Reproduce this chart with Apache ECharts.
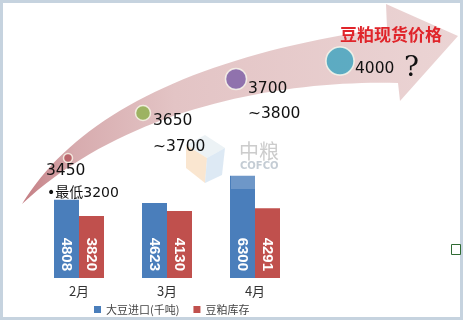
<!DOCTYPE html>
<html>
<head>
<meta charset="utf-8">
<script src="https://cdn.jsdelivr.net/npm/echarts@6/dist/echarts.min.js"></script>
<style>html,body{margin:0;padding:0;background:#fff;}#c{width:464px;height:321px;}</style>
</head>
<body>
<div id="c"></div>
<script>
// ---- data ----
const categories = ['2月', '3月', '4月'];
const soyImport = [4808, 4623, 6300];
const mealStock = [3820, 4130, 4291];
const seriesNames = ['大豆进口(千吨)', '豆粕库存'];
const priceTop = ['3450', '3650', '3700', '4000'];
const priceBottom = ['', '~3700', '~3800', ''];
const lowNote = '•最低3200';
const arrowTitle = '豆粕现货价格';
const watermarkCn = '中粮';
const watermarkEn = 'COFCO';

// ---- layout / style (decoration) ----
const bubbleXY = [[68, 158], [143, 113], [236, 79], [340, 61]];
const bubbleSize = [9, 15, 21, 28];
const bubbleColor = ['#b3545b', '#8cb04b', '#7a5ca6', '#3aa3bf'];
const topLabelXY = [[46, 171], [153, 121], [248, 89], [355, 69]];
const botLabelXY = [[0, 0], [153, 147], [248, 114], [0, 0]];
const priceFont = '15.5px "DejaVu Sans", sans-serif';

// arrow outline built from bezier curves (decoration)
function quad(p0, c, p1, n) {
  const pts = [];
  for (let i = 0; i <= n; i++) {
    const t = i / n, u = 1 - t;
    pts.push([u * u * p0[0] + 2 * u * t * c[0] + t * t * p1[0], u * u * p0[1] + 2 * u * t * c[1] + t * t * p1[1]]);
  }
  return pts;
}
function cubic(p0, c1, c2, p1, n) {
  const pts = [];
  for (let i = 0; i <= n; i++) {
    const t = i / n, u = 1 - t;
    const a = u * u * u, b = 3 * u * u * t, c = 3 * u * t * t, d = t * t * t;
    pts.push([a * p0[0] + b * c1[0] + c * c2[0] + d * p1[0], a * p0[1] + b * c1[1] + c * c2[1] + d * p1[1]]);
  }
  return pts;
}
const arrowPts = [].concat(
  quad([22, 204], [105, 68], [387, 28], 40),
  [[386, 4], [458, 36], [400, 101]],
  cubic([398, 83], [280, 80], [125, 108], [22, 204], 40)
);

const chart = echarts.init(document.getElementById('c'), null, { renderer: 'canvas' });

const graphics = [
  { type: 'rect', z: -10, shape: { x: 1.5, y: 1.5, width: 460, height: 317 },
    style: { fill: '#fff', stroke: '#c6d3df', lineWidth: 3 } },
  { type: 'polygon', z: -5, shape: { points: arrowPts },
    style: { fill: { type: 'linear', x: 0, y: 0, x2: 1, y2: 0, colorStops: [
      { offset: 0, color: '#c47d83' }, { offset: 0.12, color: '#d7abae' }, { offset: 0.35, color: '#e3c4c5' }, { offset: 1, color: '#ebd4d4' }] } } },
  // faint logo watermark
  { type: 'polygon', z: -4, shape: { points: [[186, 145], [205, 135], [225, 148], [207, 158]] }, style: { fill: '#e6eef2', opacity: 0.75 } },
  { type: 'polygon', z: -4, shape: { points: [[186, 145], [207, 158], [205, 183], [186, 168]] }, style: { fill: '#f8dcbc', opacity: 0.7 } },
  { type: 'polygon', z: -4, shape: { points: [[207, 158], [225, 148], [222, 175], [205, 183]] }, style: { fill: '#cfe0f0', opacity: 0.7 } },
  { type: 'text', z: -3, x: 239, y: 151, style: { text: watermarkCn, font: '20px "Noto Sans CJK SC", sans-serif', fill: '#cccccc', verticalAlign: 'middle' } },
  { type: 'text', z: -3, x: 240, y: 166, style: { text: watermarkEn, font: 'bold 10px "DejaVu Sans", sans-serif', fill: '#c4ccd4', verticalAlign: 'middle' } },
  { type: 'rect', z: 20, shape: { x: 231, y: 175, width: 25, height: 14 }, style: { fill: '#ffffff', opacity: 0.2 } },
  // texts
  { type: 'text', z: 5, x: 340, y: 35, style: { text: arrowTitle, font: 'bold 17px "Noto Sans CJK SC", sans-serif', fill: '#e0242a', verticalAlign: 'middle' } },
  { type: 'text', z: 5, x: 404, y: 69, style: { text: '?', font: '28px "DejaVu Serif", serif', fill: '#111', verticalAlign: 'middle' } },
  { type: 'text', z: 5, x: 47, y: 193, style: { text: lowNote, font: '14px "DejaVu Sans", "Noto Sans CJK SC", sans-serif', fill: '#111', verticalAlign: 'middle' } },
  // small green box at right edge
  { type: 'rect', z: 5, shape: { x: 451.5, y: 244.5, width: 9, height: 10 }, style: { fill: 'none', stroke: '#2f6b33', lineWidth: 1 } }
];
priceTop.forEach((t, i) => {
  graphics.push({ type: 'text', z: 5, x: topLabelXY[i][0], y: topLabelXY[i][1],
    style: { text: t, font: priceFont, fill: '#111', verticalAlign: 'middle' } });
});
priceBottom.forEach((t, i) => {
  if (!t) return;
  graphics.push({ type: 'text', z: 5, x: botLabelXY[i][0], y: botLabelXY[i][1],
    style: { text: t, font: priceFont, fill: '#111', verticalAlign: 'middle' } });
});

const barLabel = {
  show: true, position: 'insideBottom', distance: 7, rotate: -90,
  align: 'right', verticalAlign: 'middle', color: '#fff',
  fontFamily: '"Liberation Sans", Arial, sans-serif', fontSize: 15, fontWeight: 'bold'
};

chart.setOption({
  animation: false,
  backgroundColor: 'transparent',
  graphic: graphics,
  legend: {
    data: seriesNames, left: 89, top: 299, itemWidth: 7, itemHeight: 7, itemGap: 14,
    icon: 'rect',
    textStyle: { fontSize: 11, color: '#444', fontFamily: '"Noto Sans CJK SC", sans-serif' }
  },
  grid: [
    { left: 35, right: 165, top: 148, bottom: 43 },
    { left: 0, right: 0, top: 0, bottom: 0 }
  ],
  xAxis: [
    { type: 'category', data: categories, gridIndex: 0,
      axisLine: { show: false }, axisTick: { show: false },
      axisLabel: { margin: 7, fontSize: 13, color: '#333', fontFamily: '"Noto Sans CJK SC", sans-serif' } },
    { type: 'value', gridIndex: 1, min: 0, max: 464, show: false }
  ],
  yAxis: [
    { type: 'value', gridIndex: 0, min: 0, max: 8000, show: false },
    { type: 'value', gridIndex: 1, min: 0, max: 321, inverse: true, show: false }
  ],
  series: [
    { name: seriesNames[0], type: 'bar', data: soyImport, barWidth: 25, barGap: '0%',
      itemStyle: { color: '#4a7ebb' }, label: barLabel },
    { name: seriesNames[1], type: 'bar', data: mealStock, barWidth: 25,
      itemStyle: { color: '#c0504d' }, label: barLabel },
    { type: 'scatter', xAxisIndex: 1, yAxisIndex: 1, z: 4,
      data: bubbleXY.map((p, i) => ({ value: p, symbolSize: bubbleSize[i],
        itemStyle: { color: bubbleColor[i], borderColor: '#fbfbef', borderWidth: 1.5 } })),
      silent: true }
  ]
});
</script>
</body>
</html>
